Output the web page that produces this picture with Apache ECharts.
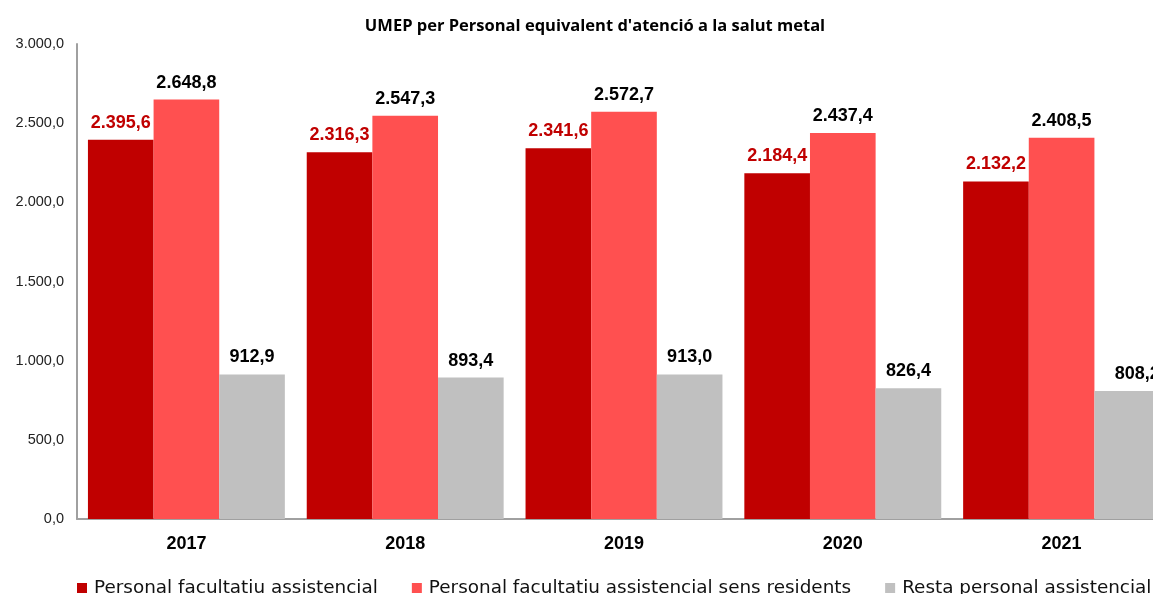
<!DOCTYPE html>
<html>
<head>
<meta charset="utf-8">
<script src="https://cdn.jsdelivr.net/npm/echarts@6/dist/echarts.min.js"></script>
<style>
  html, body { margin: 0; padding: 0; overflow: hidden; background: #fff; }
  #chart { width: 1185px; height: 594px; }
</style>
</head>
<body>
<div id="chart"></div>
<script>
// dades
var years = ['2017', '2018', '2019', '2020', '2021'];
var facultatiu = [2395.6, 2316.3, 2341.6, 2184.4, 2132.2];
var facultatiuSensRes = [2648.8, 2547.3, 2572.7, 2437.4, 2408.5];
var restaPersonal = [912.9, 893.4, 913.0, 826.4, 808.2];
var seriesNames = ['Personal facultatiu assistencial', 'Personal facultatiu assistencial sens residents', 'Resta personal assistencial'];

// format catala: 2.395,6
function fmt(v) {
    var s = v.toFixed(1).split('.');
    var ent = s[0].replace(/\B(?=(\d{3})+(?!\d))/g, '.');
    return ent + ',' + s[1];
}

var chart = echarts.init(document.getElementById('chart'));

function barSerie(name, data, color, labelColor) {
    return {
        name: name,
        type: 'bar',
        data: data,
        barGap: '0%',
        barCategoryGap: '10%',
        itemStyle: { color: color },
        label: {
            show: true,
            position: 'top',
            distance: 8,
            color: labelColor,
            fontFamily: 'Liberation Sans',
            fontWeight: 'bold',
            fontSize: 18,
            formatter: function (p) { return fmt(p.value); }
        }
    };
}

// l'ultima etiqueta queda una mica desplaçada a la dreta, com a l'original
var restaData = restaPersonal.map(function (v, i) {
    if (i === restaPersonal.length - 1) return { value: v, label: { offset: [10, 0] } };
    return v;
});

var option = {
    animation: false,
    title: {
        text: "UMEP per Personal equivalent d'atenció a la salut metal",
        left: 590,
        textAlign: 'center',
        top: 13,
        textStyle: { fontFamily: 'Open Sans', fontWeight: 'bold', fontSize: 16.5, color: '#000' }
    },
    legend: {
        left: 72,
        top: 574,
        itemWidth: 10,
        itemHeight: 10,
        itemGap: 34,
        icon: 'rect',
        textStyle: { fontFamily: 'DejaVu Sans', fontSize: 18.4, color: '#111', padding: [0, 0, 0, 2] }
    },
    grid: { left: 77, right: 14, top: 44, bottom: 75 },
    xAxis: {
        type: 'category',
        data: years,
        axisLine: { lineStyle: { color: '#a0a0a0', width: 2 } },
        axisTick: { show: false },
        axisLabel: { margin: 16, color: '#000', fontFamily: 'Liberation Sans', fontWeight: 'bold', fontSize: 18 }
    },
    yAxis: {
        type: 'value',
        min: 0,
        max: 3000,
        interval: 500,
        axisLine: { show: true, lineStyle: { color: '#a0a0a0', width: 2 } },
        axisTick: { show: false },
        splitLine: { show: false },
        axisLabel: {
            margin: 13,
            color: '#222',
            fontFamily: 'Liberation Sans',
            fontSize: 14.5,
            formatter: function (v) { return fmt(v); }
        }
    },
    series: [
        barSerie(seriesNames[0], facultatiu, '#c00000', '#c00000'),
        barSerie(seriesNames[1], facultatiuSensRes, '#ff5050', '#000'),
        barSerie(seriesNames[2], restaData, '#c0c0c0', '#000')
    ]
};

chart.setOption(option);
</script>
</body>
</html>
